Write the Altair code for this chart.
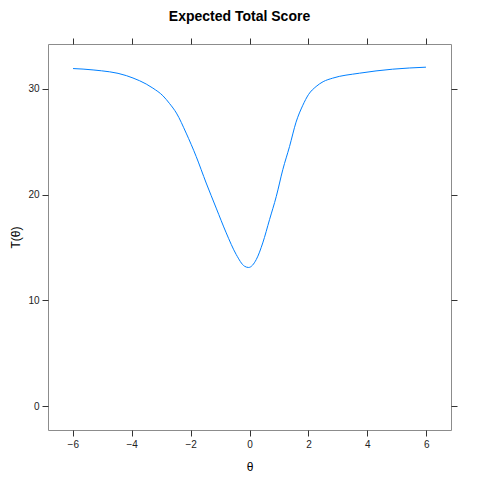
import altair as alt
import pandas as pd

theta = [-5.99, -5.31, -4.18, -3.28, -2.94, -2.71, -2.48, -2.15, -1.81, -1.47,
         -1.13, -0.79, -0.45, -0.17, -0.03, 0.23, 0.45, 0.68, 0.91, 1.13,
         1.36, 1.58, 1.81, 2.0, 2.26, 2.5, 2.82, 3.73, 4.86, 5.99]
score = [31.92, 31.79, 31.25, 30.07, 29.35, 28.60, 27.71, 25.82, 23.61, 21.10,
         18.73, 16.39, 14.34, 13.24, 13.12, 13.87, 15.44, 17.64, 19.84, 22.36,
         24.56, 26.85, 28.45, 29.45, 30.22, 30.68, 31.01, 31.48, 31.86, 32.05]
x_ticks = [-6, -4, -2, 0, 2, 4, 6]
y_ticks = [0, 10, 20, 30]

df = pd.DataFrame({"theta": theta, "score": score})

FONT = "Liberation Sans"
xs = alt.Scale(domain=[-6.84, 6.84], nice=False, zero=False)
ys = alt.Scale(domain=[-2.24, 34.24], nice=False, zero=False)

common_axis = dict(grid=False, domain=False, tickColor="#333333", tickSize=6,
                   labelFont=FONT, labelFontSize=10, labelColor="#222222",
                   titleFont=FONT, titleFontSize=12, titleFontWeight="normal",
                   titleColor="#000000")

main = alt.Chart(df).mark_line(color="#0080ff", strokeWidth=1, interpolate="monotone").encode(
    x=alt.X("theta:Q", scale=xs,
            axis=alt.Axis(orient="bottom", values=x_ticks, title="θ", labelPadding=3,
                          titlePadding=12, **common_axis)),
    y=alt.Y("score:Q", scale=ys,
            axis=alt.Axis(orient="left", values=y_ticks, title="T(θ)", labelPadding=3,
                          titlePadding=5, **common_axis)),
)

extra = alt.Chart(df).mark_line(opacity=0).encode(
    x=alt.X("theta:Q", scale=xs,
            axis=alt.Axis(orient="top", values=x_ticks, labels=False, title=None, **common_axis)),
    y=alt.Y("score:Q", scale=ys,
            axis=alt.Axis(orient="right", values=y_ticks, labels=False, title=None, **common_axis)),
)

chart = alt.layer(main, extra).resolve_axis(x="independent", y="independent").properties(
    width=403, height=386,
    autosize=alt.AutoSizeParams(type="none"),
    padding={"left": 40, "top": 36, "right": 21, "bottom": 42},
    title=alt.TitleParams("Expected Total Score", font=FONT, fontSize=14, fontWeight="bold",
                          anchor="middle", frame="group", offset=14, dx=-10,
                          color="#000000"),
).configure_view(stroke="#8c8c8c", strokeWidth=1)

chart.save("out.html", embed_options={"renderer": "svg", "actions": False})
